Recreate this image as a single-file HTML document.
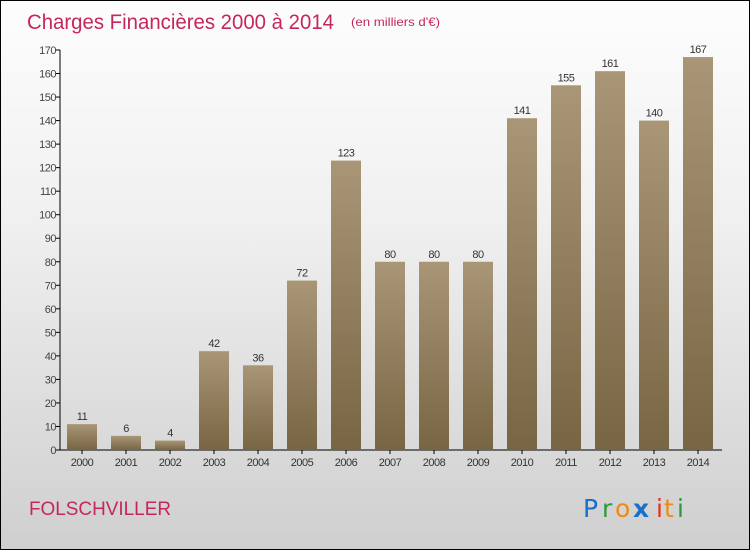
<!DOCTYPE html>
<html><head><meta charset="utf-8"><style>
body{margin:0}
#c{width:748px;height:548px;border:1px solid #000;background:linear-gradient(#fdfdfd,#f0f0f0 40%,#cfcfcf);position:relative;overflow:hidden;font-family:"Liberation Sans",sans-serif}
</style></head><body>
<div id="c">
<svg width="748" height="548">
<defs><linearGradient id="g" x1="0" y1="0" x2="0" y2="1"><stop offset="0" stop-color="#a99677"/><stop offset="1" stop-color="#786544"/></linearGradient></defs>
<text x="26" y="28" font-size="21" textLength="307" lengthAdjust="spacingAndGlyphs" fill="#c5275b">Charges Financières 2000 à 2014</text>
<text x="350" y="25" font-size="12" textLength="89" lengthAdjust="spacingAndGlyphs" fill="#c5275b">(en milliers d'€)</text>
<g id="plot"></g>
<text x="28" y="514" font-size="19" textLength="142" lengthAdjust="spacingAndGlyphs" fill="#c5275b">FOLSCHVILLER</text>
<g font-size="25" font-family="'DejaVu Sans',sans-serif">
<text x="582" y="516" fill="#1a6fc9">P</text><text x="601" y="516" fill="#2a9a3a">r</text><text x="614" y="516" fill="#f08a10">o</text><text x="632" y="516" fill="#1a6fc9" font-weight="bold">x</text><text x="655" y="516" fill="#e53020">i</text><text x="663" y="516" fill="#f08a10">t</text><text x="676" y="516" fill="#2a9a3a">i</text>
</g>
</svg></div>
<script>
const years=["2000","2001","2002","2003","2004","2005","2006","2007","2008","2009","2010","2011","2012","2013","2014"];
const values=[11,6,4,42,36,72,123,80,80,80,141,155,161,140,167];
const yTicks=[0,10,20,30,40,50,60,70,80,90,100,110,120,130,140,150,160,170];
const ns="http://www.w3.org/2000/svg";
const g=document.getElementById('plot');
const y=v=>449-v*400/170;
const x=i=>81+44*i;
function el(t,a,txt){const e=document.createElementNS(ns,t);for(const k in a)e.setAttribute(k,a[k]);if(txt!==undefined)e.textContent=txt;g.appendChild(e);return e;}
let ax=el('line',{x1:59,y1:y(170),x2:59,y2:449,stroke:'#000'});

let bx=el('line',{x1:59,y1:449,x2:721,y2:449,stroke:'#000'});

yTicks.forEach(t=>{
 let l=el('line',{x1:55,y1:y(t),x2:59,y2:y(t),stroke:'#000'});
 
 let s=el('text',{x:55,y:y(t)+4,'font-size':11,fill:'#444','text-anchor':'end','letter-spacing':'-0.5'},t);
 
});
years.forEach((yr,i)=>{
 let r=el('rect',{x:x(i)-15,y:y(values[i]),width:30,height:449-y(values[i]),fill:'url(#g)'});
 
 let l=el('text',{x:x(i),y:y(values[i])-4,'font-size':11,fill:'#333','text-anchor':'middle','letter-spacing':'-0.5'},values[i]);
 
 let tk=el('line',{x1:x(i),y1:449,x2:x(i),y2:453,stroke:'#000'});
 
 let xl=el('text',{x:x(i),y:465,'font-size':11,fill:'#333','text-anchor':'middle','letter-spacing':'-0.5'},yr);
 
});
</script>
</body></html>
